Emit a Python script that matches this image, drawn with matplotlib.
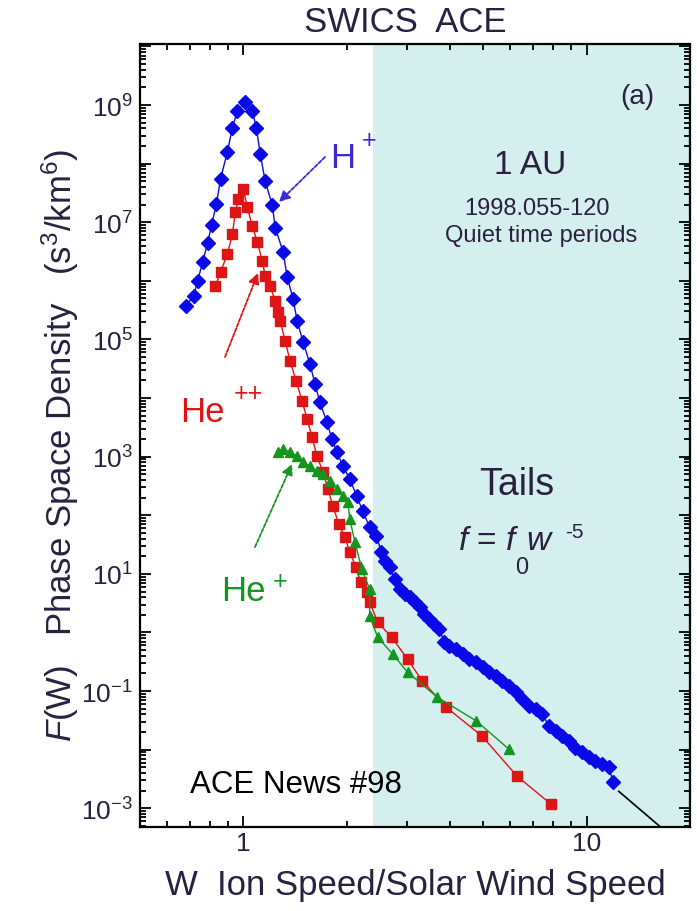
import matplotlib
matplotlib.use("Agg")
import matplotlib.pyplot as plt
import numpy as np
from matplotlib.ticker import LogLocator, FuncFormatter, NullFormatter

plt.rcParams['font.family'] = ['Liberation Sans', 'DejaVu Sans']
plt.rcParams['mathtext.fontset'] = 'custom'
plt.rcParams['mathtext.rm'] = 'Liberation Sans'
plt.rcParams['mathtext.it'] = 'Liberation Sans:italic'
plt.rcParams['mathtext.bf'] = 'Liberation Sans:bold'

# ---- data ----
h_w = [0.679, 0.716, 0.736, 0.761, 0.787, 0.808, 0.835, 0.858, 0.899, 0.929, 0.961, 1.013,
       1.062, 1.091, 1.12, 1.158, 1.214, 1.239, 1.306, 1.342, 1.396, 1.435, 1.493, 1.564,
       1.617, 1.671, 1.751, 1.812, 1.872, 1.95, 2.042, 2.138, 2.228, 2.333, 2.441, 2.523,
       2.580, 2.667, 2.758, 2.851, 2.949, 3.048, 3.153, 3.260, 3.370, 3.483, 3.601, 3.724,
       3.850, 3.981, 4.163, 4.351, 4.550, 4.757, 4.973, 5.200, 5.437, 5.683, 5.943, 6.214,
       6.494, 6.792, 7.100, 7.420, 7.761, 8.116, 8.481, 8.867, 9.273, 9.692, 10.13, 10.60,
       11.07, 11.58, 11.97]
h_f = [3.7e5, 5.5e5, 9.9e5, 2.1e6, 4.4e6, 9.0e6, 2.05e7, 5.5e7, 1.6e8, 4.1e8, 7.9e8, 1.12e9,
       7.9e8, 4.1e8, 1.46e8, 5.0e7, 1.97e7, 8.0e6, 3.1e6, 1.16e6, 4.9e5, 2.06e5, 9.0e4, 3.8e4,
       1.73e4, 8.5e3, 3.9e3, 2.0e3, 1.2e3, 690, 415, 213, 118, 62, 44.7, 23.3,
       16.7, 12.9, 8.15, 5.5, 4.52, 3.97, 3.26, 2.68, 2.06, 1.69, 1.39, 1.14,
       0.676, 0.593, 0.521, 0.428, 0.352, 0.308, 0.254, 0.208, 0.182, 0.150, 0.123, 0.0948,
       0.0729, 0.0561, 0.0493, 0.0406, 0.0256, 0.0210, 0.0173, 0.0142, 0.0109, 0.00898, 0.00738, 0.00647,
       0.00568, 0.00498, 0.00277]

he2_w = [0.829, 0.858, 0.899, 0.929, 0.948, 0.967, 1.0, 1.027, 1.062, 1.098, 1.135, 1.158,
         1.197, 1.239, 1.263, 1.280, 1.324, 1.368, 1.425, 1.483, 1.534, 1.585, 1.638, 1.706,
         1.763, 1.823, 1.897, 1.976, 2.042, 2.127, 2.198, 2.287, 2.333, 2.462, 2.703, 3.008,
         3.323, 3.90, 4.96, 6.27, 7.87]
he2_f = [8.1e5, 1.41e6, 2.9e6, 6.3e6, 1.49e7, 2.5e7, 3.7e7, 1.8e7, 8.6e6, 4.6e6, 2.2e6, 1.21e6,
         8.1e5, 4.5e5, 2.9e5, 2.06e5, 9.4e4, 4.3e4, 1.95e4, 8.9e3, 4.4e3, 2.16e3, 1.02e3, 550,
         280, 144, 71, 42, 23.5, 13.1, 7.2, 4.9, 3.3, 1.50, 0.835, 0.35,
         0.148, 0.053, 0.017, 0.00354, 0.00118]

he1_w = [1.263, 1.306, 1.368, 1.435, 1.493, 1.564, 1.638, 1.706, 1.788, 1.872, 1.95, 2.015,
         2.042, 2.113, 2.213, 2.333, 2.333, 2.462, 2.721, 3.008, 3.67, 4.77, 5.94]
he1_f = [1.2e3, 1.35e3, 1.2e3, 1.02e3, 810, 690, 570, 500, 380, 280, 210, 168,
         86, 35, 12.1, 5.5, 1.9, 0.835, 0.43, 0.21, 0.079, 0.031, 0.0102]

tail_w = [12.4, 20.0]
tail_f0 = 572.0
tail_index = -5

tail_start = 2.38
xlim = (0.5, 20)
ylim = (4.8e-4, 1.1e10)

blue = '#0a0ae8'
red = '#dd1515'
green = '#14961e'
hcol = '#3a2ad8'
txt = '#2a2040'

W, H = 697, 912
fig = plt.figure(figsize=(W / 100, H / 100), dpi=100)
ax = fig.add_axes([140 / W, 1 - 828 / H, 550 / W, 783 / H])
ax.set_xscale('log')
ax.set_yscale('log')
ax.set_xlim(*xlim)
ax.set_ylim(*ylim)

ax.axvspan(tail_start, xlim[1], color='#d5eeee', zorder=0, lw=0)

tw = np.array(tail_w)
ax.plot(tw, tail_f0 * tw ** tail_index, color='black', lw=1.2, zorder=2)

ax.plot(h_w, h_f, color=blue, lw=1.0, marker='D', ms=7.5, mec=blue, mfc=blue, zorder=5)
ax.plot(he2_w, he2_f, color=red, lw=1.0, marker='s', ms=6.5, mec=red, mfc=red, zorder=4)
ax.plot(he1_w, he1_f, color=green, lw=1.0, marker='^', ms=7.5, mec=green, mfc=green, zorder=6)

# ticks
ax.yaxis.set_major_locator(LogLocator(base=10, numticks=30))
ax.yaxis.set_minor_locator(LogLocator(base=10, subs=np.arange(2, 10), numticks=30))
def yfmt(v, pos):
    e = int(round(np.log10(v)))
    if e % 2 != 0:
        return r'$10^{%d}$' % e
    return ''
ax.yaxis.set_major_formatter(FuncFormatter(yfmt))
ax.yaxis.set_minor_formatter(NullFormatter())
ax.xaxis.set_major_locator(LogLocator(base=10, numticks=10))
ax.xaxis.set_minor_locator(LogLocator(base=10, subs=np.arange(2, 10), numticks=10))
ax.xaxis.set_major_formatter(FuncFormatter(lambda v, p: '%g' % v))
ax.xaxis.set_minor_formatter(NullFormatter())
ax.tick_params(which='both', direction='in', top=True, right=True, colors='black',
               labelcolor=txt, labelsize=19, width=1.3)
ax.tick_params(which='major', length=8)
ax.tick_params(which='minor', length=4)
ax.tick_params(axis='x', pad=3)
ax.tick_params(axis='y', pad=5)
for s in ax.spines.values():
    s.set_linewidth(1.6)

def fx(px):
    return px / W
def fy(py):
    return 1 - py / H

fig.text(fx(405), fy(23), 'SWICS  ACE', fontsize=25, color=txt, ha='center', va='center')
fig.text(fx(415), fy(886), 'W  Ion Speed/Solar Wind Speed', fontsize=25, color=txt,
         ha='center', va='center')
fig.text(fx(60), fy(445), r'$\mathit{F}$(W)   Phase Space Density   (s$^3$/km$^6$)',
         fontsize=25, color=txt, ha='center', va='center', rotation=90)

def a2(px, py):
    # pixel (from top-left) -> axes fraction
    return ((px - 140) / 550, (828 - py) / 783)

def put(px, py, s, **kw):
    ax.text(*a2(px, py), s, transform=ax.transAxes, **kw)

put(637, 97, '(a)', fontsize=20, color=txt, ha='center', va='center')
put(530, 165, '1 AU', fontsize=24, color=txt, ha='center', va='center')
put(537, 209, '1998.055-120', fontsize=17, color=txt, ha='center', va='center')
put(541, 236, 'Quiet time periods', fontsize=17, color=txt, ha='center', va='center')
put(517, 485, 'Tails', fontsize=27, color=txt, ha='center', va='center')
put(458, 550, r'$\mathit{f}$ = $\mathit{f}$', fontsize=24, color=txt, ha='left', va='baseline')
put(540, 550, r'$\mathit{w}$', fontsize=24, color=txt, ha='center', va='baseline')
put(574, 532, '-5', fontsize=15, color=txt, ha='center', va='center')
put(522, 568, '0', fontsize=17, color=txt, ha='center', va='center')
put(296, 785, 'ACE News #98', fontsize=22.5, color='black', ha='center', va='center')

put(330, 168, 'H', fontsize=25, color=hcol, ha='left', va='baseline')
put(369, 141, '+', fontsize=18, color=hcol, ha='center', va='center')
put(180, 422, 'He', fontsize=25, color=red, ha='left', va='baseline')
put(248, 394, '++', fontsize=18, color=red, ha='center', va='center')
put(221, 601, 'He', fontsize=25, color=green, ha='left', va='baseline')
put(280, 582, '+', fontsize=18, color=green, ha='center', va='center')

def arrow(p0, p1, col):
    ax.annotate('', xy=a2(*p1), xytext=a2(*p0), xycoords='axes fraction',
                textcoords='axes fraction',
                arrowprops=dict(arrowstyle='-|>', color=col, lw=1.3, ls=(0, (2, 1)),
                                mutation_scale=16, shrinkA=0, shrinkB=0))

arrow((325, 158), (279, 203), hcol)
arrow((225, 358), (258, 274), red)
arrow((255, 548), (292, 465), green)

fig.savefig('out.png', dpi=100)
